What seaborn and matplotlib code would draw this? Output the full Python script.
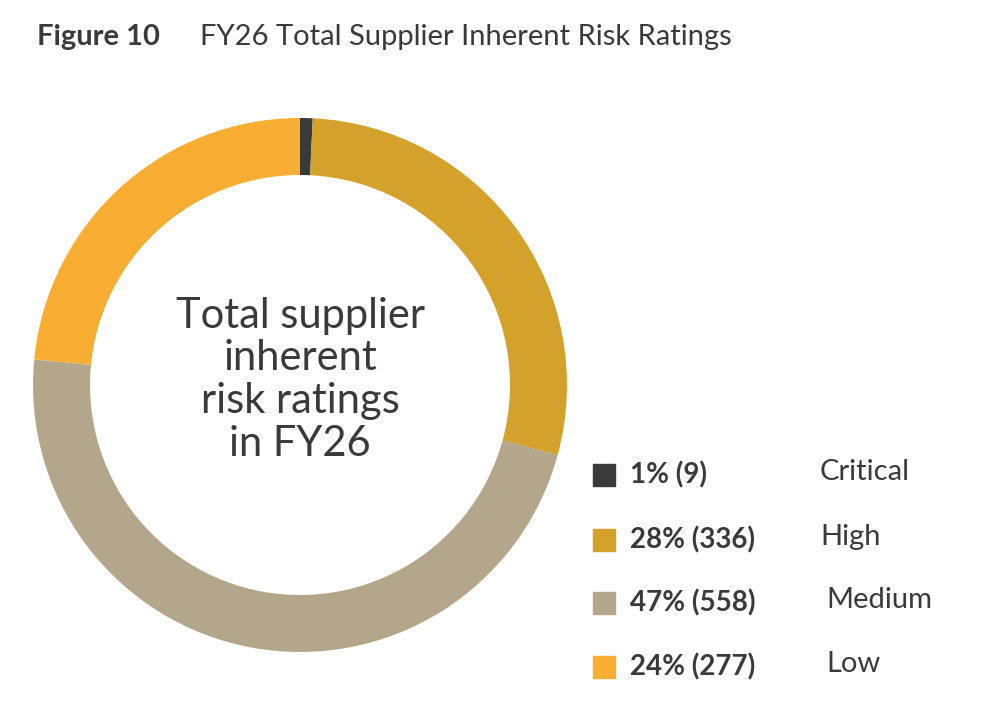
import matplotlib
matplotlib.use("Agg")
import matplotlib.pyplot as plt
import seaborn as sns

categories = ["Critical", "High", "Medium", "Low"]
counts = [9, 336, 558, 277]
percents = ["1%", "28%", "47%", "24%"]
colors = ["#3a3a3a", "#D4A22B", "#B3A68A", "#F9AE33"]

sns.set_theme(style="white")
plt.rcParams['font.family'] = ['Lato', 'DejaVu Sans']

fig = plt.figure(figsize=(9.85, 7.12), dpi=100)
W, H = 985, 712
cx, cy, r = 300, 385, 267
ax = fig.add_axes([(cx - r) / W, 1 - (cy + r) / H, 2 * r / W, 2 * r / H])
ax.pie(counts, colors=colors, startangle=90, counterclock=False,
       wedgeprops=dict(width=57 / r, linewidth=0))
ax.set_aspect('equal')
ax.set_xlim(-1, 1); ax.set_ylim(-1, 1)
ax.axis('off')
ax.text(0, 0.02, "Total supplier\ninherent\nrisk ratings\nin FY26", ha='center', va='center',
        fontsize=30, color='#3a3a3a', linespacing=1.15)

fig.text(37 / W, 1 - 37 / H, "Figure 10", fontsize=21, fontweight='bold', color='#3a3a3a', va='center')
fig.text(200 / W, 1 - 37 / H, "FY26 Total Supplier Inherent Risk Ratings", fontsize=21, color='#3a3a3a', va='center')

ys = [475, 540, 603, 667]
lx = [820, 820, 826, 826]
for i in range(4):
    y = 1 - ys[i] / H
    fig.patches.append(plt.Rectangle((593 / W, y - 11 / H), 22 / W, 22 / H, color=colors[i],
                                     transform=fig.transFigure, figure=fig))
    fig.text(630 / W, y, f"{percents[i]} ({counts[i]})", fontsize=20, fontweight='bold',
             color='#3a3a3a', va='center')
    fig.text(lx[i] / W, y + 3 / H, categories[i], fontsize=21, color='#3a3a3a', va='center')

fig.savefig("out.png", dpi=100, facecolor='white')
